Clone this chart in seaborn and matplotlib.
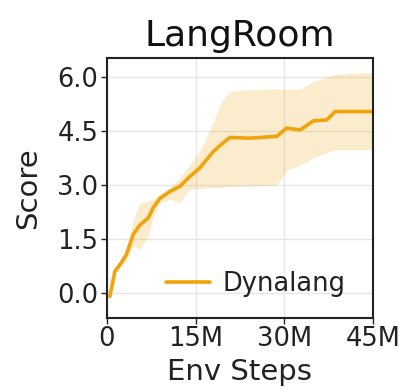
import numpy as np
import pandas as pd
import matplotlib
matplotlib.use("Agg")
import matplotlib.pyplot as plt
import seaborn as sns

steps_m = [0.5, 1.35, 2.2, 3.3, 4.45, 5.6, 7.0, 7.8, 9.0, 10.7, 12.35, 13.75,
           15.7, 18.0, 19.3, 20.8, 24.2, 28.7, 30.4, 32.7, 34.9, 37.2, 38.6, 45.0]
mean_score = [-0.1, 0.6, 0.78, 1.06, 1.62, 1.89, 2.08, 2.36, 2.63, 2.82, 2.96, 3.19,
              3.47, 3.93, 4.12, 4.32, 4.30, 4.35, 4.58, 4.53, 4.78, 4.81, 5.04, 5.04]
upper_score = [-0.05, 0.7, 0.9, 1.25, 2.0, 2.5, 2.55, 2.6, 2.75, 2.95, 3.2, 3.5,
               3.93, 4.75, 5.3, 5.6, 5.65, 5.66, 5.66, 5.66, 5.88, 6.0, 6.08, 6.13]
lower_score = [-0.15, 0.5, 0.68, 0.9, 1.3, 1.2, 1.6, 2.1, 2.5, 2.6, 2.5, 2.85,
               2.9, 2.92, 2.93, 2.95, 2.97, 3.0, 3.4, 3.55, 3.75, 3.9, 3.98, 3.98]
series_name = "Dynalang"
x_ticks = [0, 15, 30, 45]
x_tick_labels = ["0", "15M", "30M", "45M"]
y_ticks = [0.0, 1.5, 3.0, 4.5, 6.0]

color = "#F0A30A"

sns.set_theme(style="whitegrid")
plt.rcParams['font.family'] = ['DejaVu Sans']

df = pd.DataFrame({"Env Steps": steps_m, "Score": mean_score, "method": series_name})

fig = plt.figure(figsize=(4.05, 3.92), dpi=100)
ax = fig.add_axes([0.264, 0.189, 0.657, 0.663])

ax.fill_between(steps_m, lower_score, upper_score, color=color, alpha=0.2, linewidth=0)
sns.lineplot(data=df, x="Env Steps", y="Score", hue="method", palette=[color],
             linewidth=2.6, ax=ax)

ax.set_xlim(0, 45)
ax.set_ylim(-0.7, 6.53)
ax.set_xticks(x_ticks)
ax.set_xticklabels(x_tick_labels)
ax.set_yticks(y_ticks)
ax.set_yticklabels([f"{v:.1f}" for v in y_ticks])

ax.grid(True, color="#e6e6e6", linewidth=1.0)
for s in ax.spines.values():
    s.set_color("#222222")
    s.set_linewidth(1.5)
ax.tick_params(axis="both", labelsize=18.5, length=4, width=1, color="#222222",
               colors="#222222", pad=2, left=True, bottom=True)

ax.set_xlabel("Env Steps", fontsize=21, color="#222222", labelpad=4)
ax.set_ylabel("Score", fontsize=21, color="#222222", labelpad=11)
ax.set_title("LangRoom", fontsize=26, color="#111111", pad=9)

leg = ax.legend(loc="lower right", bbox_to_anchor=(0.955, 0.02), frameon=False,
                fontsize=18.5, handlelength=1.7, handletextpad=0.5, borderaxespad=0.2)
for t in leg.get_texts():
    t.set_color("#222222")

fig.savefig("out.png", dpi=100)
